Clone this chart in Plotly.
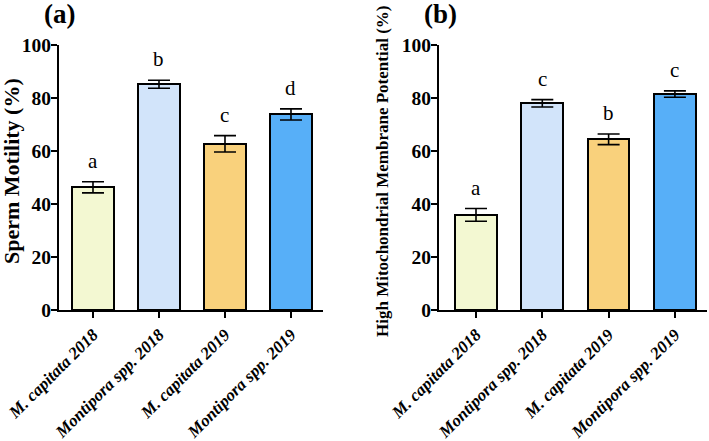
import plotly.graph_objects as go

categories = ["M. capitata 2018", "Montipora spp. 2018", "M. capitata 2019", "Montipora spp. 2019"]
colors = ["#F3F8D2", "#D2E4FA", "#F9D17C", "#57AFF8"]

motility_mean = [46.3, 85.2, 62.7, 73.8]
motility_err = [2.1, 1.5, 3.1, 2.1]
motility_letters = ["a", "b", "c", "d"]

mmp_mean = [35.9, 78.0, 64.4, 81.5]
mmp_err = [2.4, 1.4, 2.0, 1.2]
mmp_letters = ["a", "c", "b", "c"]

yticks = [0, 20, 40, 60, 80, 100]

W, H = 709, 441
FONT = "Liberation Serif"

fig = go.Figure()

def add_panel(means, errs, xa, ya, width):
    fig.add_trace(go.Bar(
        x=categories, y=means, xaxis=xa, yaxis=ya, width=width,
        marker=dict(color=colors, line=dict(color="black", width=2)),
        error_y=dict(type="data", array=errs, visible=True, color="black", thickness=1.6, width=11),
        showlegend=False,
    ))

add_panel(motility_mean, motility_err, "x", "y", 0.64)
add_panel(mmp_mean, mmp_err, "x2", "y2", 0.63)

ydom = [1 - 310 / H, 1 - 45 / H]
axis_common = dict(showline=True, linecolor="black", linewidth=2, ticks="outside",
                   ticklen=6, tickwidth=2, tickcolor="black", showgrid=False,
                   zeroline=False, automargin=False)
xfont = dict(family=FONT, size=17, color="black", weight="bold", style="italic")
yfont = dict(family=FONT, size=19.5, color="black", weight="bold")

fig.update_layout(
    width=W, height=H, margin=dict(l=0, r=0, t=0, b=0),
    plot_bgcolor="white", paper_bgcolor="white", bargap=0,
    xaxis=dict(domain=[59 / W, 323 / W], anchor="y", range=[-0.515, 3.485],
               tickangle=-45, tickfont=xfont, **axis_common),
    yaxis=dict(domain=ydom, anchor="x", range=[0, 100], tickvals=yticks,
               tickfont=yfont, ticklabelstandoff=-4, **axis_common),
    xaxis2=dict(domain=[439 / W, 707 / W], anchor="y2", range=[-0.558, 3.484],
                tickangle=-45, tickfont=xfont, **axis_common),
    yaxis2=dict(domain=ydom, anchor="x2", range=[0, 100], tickvals=yticks,
                tickfont=yfont, ticklabelstandoff=-4, **axis_common),
)

annotations = []
for xr, yr, means, errs, letters in [("x", "y", motility_mean, motility_err, motility_letters),
                                      ("x2", "y2", mmp_mean, mmp_err, mmp_letters)]:
    for c, m, e, l in zip(categories, means, errs, letters):
        annotations.append(dict(x=c, y=m + e, xref=xr, yref=yr, text=l, showarrow=False,
                                yanchor="bottom", yshift=7,
                                font=dict(family=FONT, size=21, color="black")))

annotations += [
    dict(x=59 / W, y=1 - 14 / H, xref="paper", yref="paper", text="<b>(a)</b>", showarrow=False,
         xanchor="center", yanchor="middle", font=dict(family=FONT, size=27, color="black")),
    dict(x=440 / W, y=1 - 14 / H, xref="paper", yref="paper", text="<b>(b)</b>", showarrow=False,
         xanchor="center", yanchor="middle", font=dict(family=FONT, size=27, color="black")),
    dict(x=11 / W, y=1 - 171 / H, xref="paper", yref="paper", text="<b>Sperm Motility (%)</b>",
         textangle=-90, showarrow=False, xanchor="center", yanchor="middle",
         font=dict(family=FONT, size=22, color="black")),
    dict(x=382 / W, y=1 - 172 / H, xref="paper", yref="paper",
         text="<b>High Mitochondrial Membrane Potential (%)</b>",
         textangle=-90, showarrow=False, xanchor="center", yanchor="middle",
         font=dict(family=FONT, size=17, color="black")),
]
fig.update_layout(annotations=annotations)

fig.write_html("out.html", config={"displayModeBar": False},
               post_script="document.body.style.margin='0px';")
